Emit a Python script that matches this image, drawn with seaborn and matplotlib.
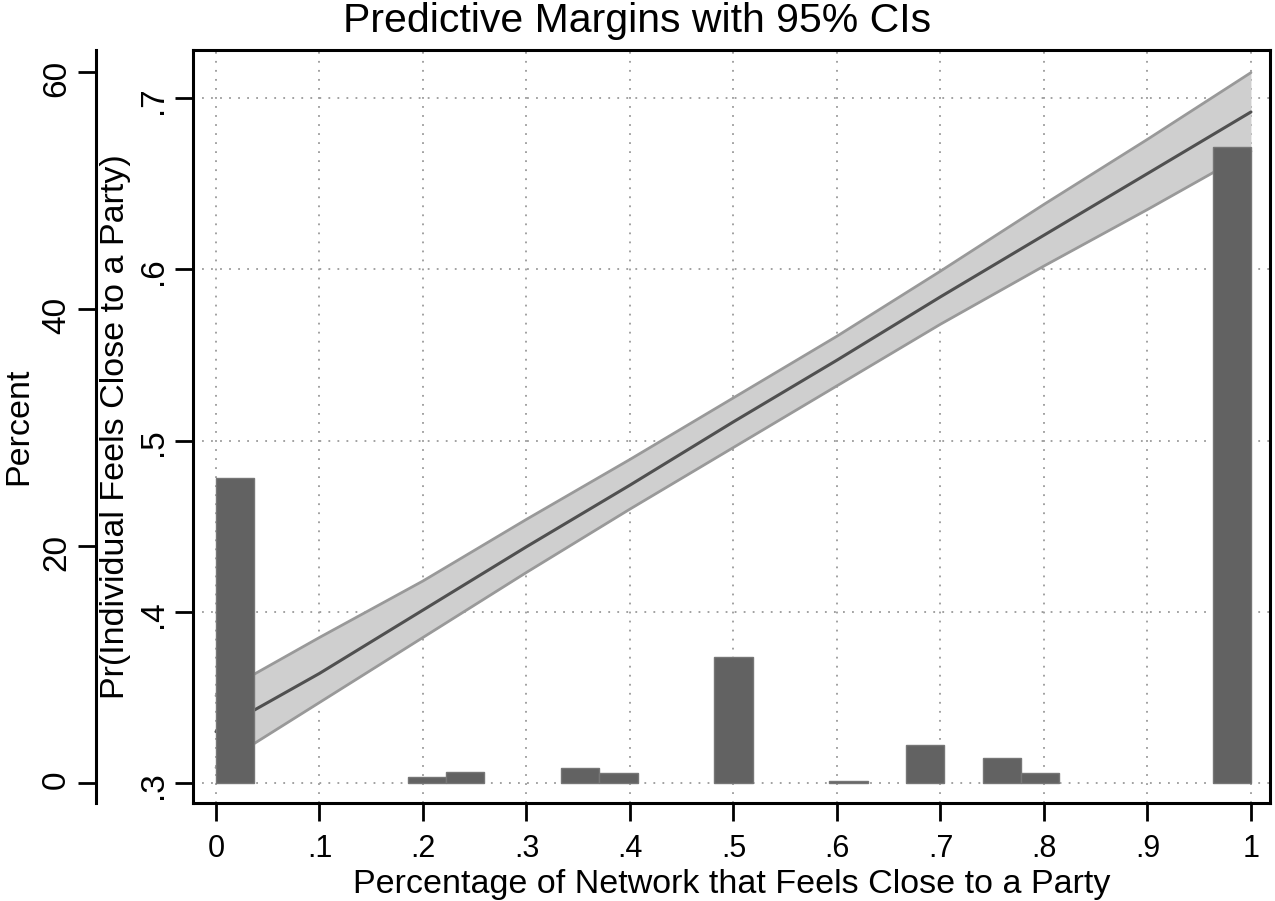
import numpy as np
import pandas as pd
import seaborn as sns
import matplotlib
matplotlib.use("Agg")
import matplotlib.pyplot as plt

# predictive margins at each tenth of the network share
at_x = [0, .1, .2, .3, .4, .5, .6, .7, .8, .9, 1]
margin = [.330, .364, .401, .438, .474, .511, .547, .584, .620, .656, .692]
ci_upper = [.351, .385, .418, .454, .489, .525, .561, .599, .638, .676, .715]
ci_lower = [.309, .347, .385, .423, .460, .496, .532, .568, .602, .635, .669]

# histogram of the network share, 27 bins on [0, 1], in percent
n_bins = 27
pct = [25.7, 0, 0, 0, 0, 0.5, 0.9, 0, 0, 1.3, 0.8, 0, 0, 10.6, 0, 0,
       0.2, 0, 3.2, 0, 2.1, 0.8, 0, 0, 0, 0, 53.7]

x_ticks = [0, .1, .2, .3, .4, .5, .6, .7, .8, .9, 1]
x_labels = ["0", ".1", ".2", ".3", ".4", ".5", ".6", ".7", ".8", ".9", "1"]
pr_ticks = [.3, .4, .5, .6, .7]
pr_labels = [".3", ".4", ".5", ".6", ".7"]
pct_ticks = [0, 20, 40, 60]

sns.set_style("white")
plt.rcParams["font.family"] = ["Liberation Sans", "DejaVu Sans"]
plt.rcParams["text.color"] = "black"
plt.rcParams["axes.labelcolor"] = "black"
plt.rcParams["xtick.color"] = "black"
plt.rcParams["ytick.color"] = "black"

W, H = 1275, 901
fig = plt.figure(figsize=(W / 100, H / 100), dpi=100)
ax = fig.add_axes([193 / W, 1 - 803 / H, (1270 - 193) / W, (803 - 50) / H])

df_m = pd.DataFrame({"x": at_x, "margin": margin, "lo": ci_lower, "hi": ci_upper})

ax.fill_between(df_m["x"], df_m["lo"], df_m["hi"], color="#cfcfcf", lw=0, zorder=2)
sns.lineplot(data=df_m, x="x", y="hi", ax=ax, color="#999999", lw=2, zorder=3)
sns.lineplot(data=df_m, x="x", y="lo", ax=ax, color="#999999", lw=2, zorder=3)
sns.lineplot(data=df_m, x="x", y="margin", ax=ax, color="#505050", lw=2.2, zorder=4)

ax.set_xlim(-0.0222, 1.0184)
ax.set_ylim(0.2883, 0.7282)
ax.set_xticks(x_ticks)
ax.set_xticklabels(x_labels)
ax.set_yticks(pr_ticks)
ax.set_yticklabels(pr_labels)
ax.grid(True, color="#9a9a9a", linestyle=(0, (1, 4)), lw=1.3)
ax.set_axisbelow(True)
ax.set_xlabel("Percentage of Network that Feels Close to a Party", fontsize=24.5, labelpad=4)
ax.set_ylabel("Pr(Individual Feels Close to a Party)", fontsize=24.5)
ax.yaxis.set_label_coords(-0.058, 0.5)
ax.tick_params(axis="both", direction="out", length=13, width=2, color="black",
               left=True, bottom=True)
ax.tick_params(axis="x", labelsize=22, pad=9)
ax.tick_params(axis="y", labelsize=24, labelrotation=90, pad=4)
for s in ax.spines.values():
    s.set_color("black")
    s.set_linewidth(2.2)

# percent axis, pushed out to the left
ax2 = ax.twinx()
centers = (np.arange(n_bins) + 0.5) / n_bins
hist_df = pd.DataFrame({"x": centers, "pct": pct})
sns.histplot(data=hist_df, x="x", weights="pct", bins=n_bins, binrange=(0, 1),
             ax=ax2, color="#626262", edgecolor="#767676", linewidth=1, alpha=1)
for p in list(ax2.patches):
    if p.get_height() == 0:
        p.remove()
ax2.set_ylim(-1.69, 61.86)
ax2.set_yticks(pct_ticks)
ax2.set_yticklabels([str(t) for t in pct_ticks])
ax2.yaxis.set_label_position("left")
ax2.yaxis.set_ticks_position("left")
ax2.spines["left"].set_position(("outward", 70))
ax2.spines["left"].set_linewidth(2.2)
ax2.spines["left"].set_color("black")
for side in ["right", "top", "bottom"]:
    ax2.spines[side].set_visible(False)
ax2.set_ylabel("Percent", fontsize=24.5)
ax2.yaxis.set_label_coords(-0.147, 0.5)
ax2.set_xlabel("")
ax2.tick_params(axis="y", direction="out", length=13, width=2, color="black",
                labelsize=24, labelrotation=90, pad=4, left=True, right=False)
ax2.grid(False)

fig.text(0.5, 1 - 21 / H, "Predictive Margins with 95% CIs", ha="center",
         va="center", fontsize=29.5)

fig.savefig("out.png", dpi=100)
